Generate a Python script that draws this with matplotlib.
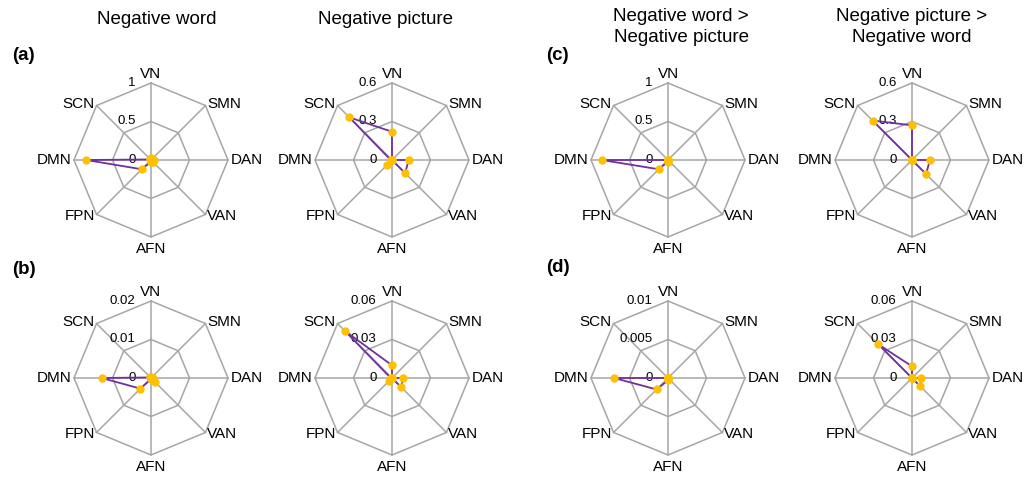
import numpy as np
import matplotlib
matplotlib.use("Agg")
import matplotlib.pyplot as plt

plt.rcParams['font.family'] = ['Liberation Sans', 'DejaVu Sans']

networks = ["VN", "SMN", "DAN", "VAN", "AFN", "FPN", "DMN", "SCN"]

# row a/c: beta-like values, row b/d: second measure
neg_word_a = [0.02, 0.01, 0.04, 0.03, 0.02, 0.17, 0.84, 0.01]
neg_pic_a = [0.22, 0.0, 0.13, 0.145, 0.0, 0.06, 0.01, 0.47]
word_gt_pic_c = [0.0, 0.0, 0.0, 0.0, 0.02, 0.17, 0.86, 0.0]
pic_gt_word_c = [0.27, 0.0, 0.14, 0.155, 0.0, 0.0, 0.0, 0.435]
neg_word_b = [0.0003, 0.0, 0.0004, 0.0013, 0.0003, 0.0039, 0.0128, 0.0002]
neg_pic_b = [0.0099, 0.0, 0.0085, 0.0103, 0.0, 0.003, 0.001, 0.052]
word_gt_pic_d = [0.0, 0.0, 0.0, 0.0, 0.0003, 0.0021, 0.0070, 0.0]
pic_gt_word_d = [0.0091, 0.0, 0.0072, 0.0088, 0.0, 0.0, 0.0, 0.037]

rmax_list = [1, 0.6, 1, 0.6, 0.02, 0.06, 0.01, 0.06]
tick_labels = [["0", "0.5", "1"], ["0", "0.3", "0.6"], ["0", "0.5", "1"], ["0", "0.3", "0.6"],
               ["0", "0.01", "0.02"], ["0", "0.03", "0.06"], ["0", "0.005", "0.01"], ["0", "0.03", "0.06"]]
panels = [neg_word_a, neg_pic_a, word_gt_pic_c, pic_gt_word_c,
          neg_word_b, neg_pic_b, word_gt_pic_d, pic_gt_word_d]

titles = ["Negative word", "Negative picture", "Negative word >\nNegative picture",
          "Negative picture >\nNegative word"]

W, H = 1030, 479
centers_x = [151, 392, 668, 912]
centers_y = [160, 378]
R = 77

fig = plt.figure(figsize=(W / 100, H / 100), dpi=100)

theta = np.deg2rad(np.arange(8) * 45.0)
theta_closed = np.append(theta, theta[0])
grid_col = "#a6a6a6"

for i, vals in enumerate(panels):
    row, col = divmod(i, 4)
    cx, cy = centers_x[col], centers_y[row]
    ax = fig.add_axes([(cx - R) / W, (H - cy - R) / H, 2 * R / W, 2 * R / H], projection="polar")
    ax.set_theta_zero_location("N")
    ax.set_theta_direction(-1)
    rmax = rmax_list[i]
    ax.set_ylim(0, rmax)
    ax.grid(False)
    ax.set_xticks([])
    ax.set_yticks([])
    ax.spines["polar"].set_visible(False)
    ax.patch.set_alpha(0)

    # octagon rings and spokes
    for frac in [0.5, 1.0]:
        ax.plot(theta_closed, [rmax * frac] * 9, color=grid_col, lw=1.1, zorder=1, clip_on=False)
    for t in theta:
        ax.plot([t, t], [0, rmax], color=grid_col, lw=1.1, zorder=1, clip_on=False)

    # radial labels
    for frac, lab in zip([0, 0.5, 1.0], tick_labels[i]):
        ax.annotate(lab, xy=(0, rmax * frac), xytext=(-11, 0), textcoords="offset points",
                    ha="right", va="center", fontsize=9.5, annotation_clip=False)

    # category labels
    for t, name in zip(theta, networks):
        deg = np.rad2deg(t)
        if deg == 0:
            ha, va, r = "center", "bottom", 1.03
        elif deg == 180:
            ha, va, r = "center", "top", 1.06
        elif deg < 180:
            ha, va, r = "left", "center", 1.03
        else:
            ha, va, r = "right", "center", 1.03
        ax.text(t, rmax * r, name, ha=ha, va=va, fontsize=11, clip_on=False)

    v = np.append(vals, vals[0])
    ax.plot(theta_closed, v, color="#7030a0", lw=1.3, zorder=3, clip_on=False)
    ax.plot(theta, vals, "o", color="#ffc000", ms=5, zorder=4, clip_on=False)

# column titles
for col, t in enumerate(titles):
    x = centers_x[col] + (6 if col == 0 else 0)
    if col == 1:
        x -= 6
    if col == 2:
        x += 13
    y = 20 if "\n" not in t else 27
    fig.text(x / W, 1 - y / H, t, ha="center", va="center", fontsize=13.5, linespacing=1.35)

for lab, x, y in [("(a)", 12, 55), ("(b)", 12, 270), ("(c)", 546, 55), ("(d)", 546, 268)]:
    fig.text(x / W, 1 - y / H, lab, ha="left", va="center", fontsize=13.5, fontweight="bold")

fig.savefig("out.png", dpi=100)
